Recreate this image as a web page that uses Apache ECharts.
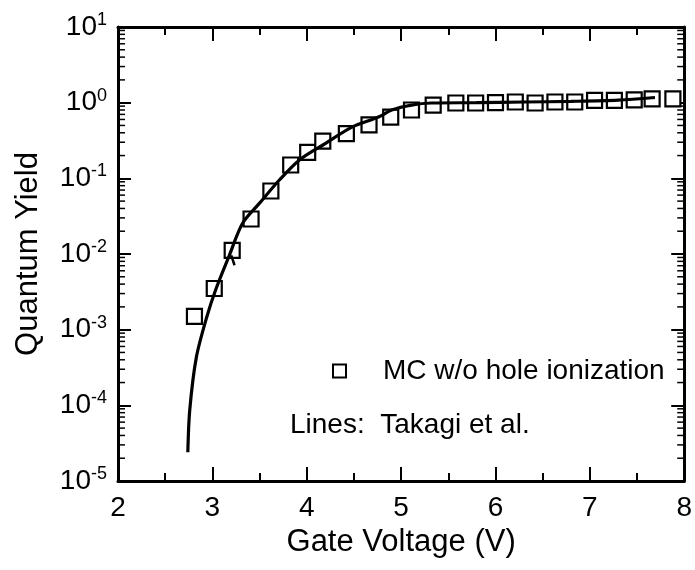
<!DOCTYPE html>
<html>
<head>
<meta charset="utf-8">
<script src="https://cdn.jsdelivr.net/npm/echarts@6/dist/echarts.min.js"></script>
<style>
html, body { margin: 0; padding: 0; background: #fff; }
#chart { width: 695px; height: 570px; }
</style>
</head>
<body>
<div id="chart"></div>
<script>
var chart = echarts.init(document.getElementById('chart'));

// MC w/o hole ionization (squares)
var mcVoltage = [2.81, 3.02, 3.21, 3.41, 3.62, 3.83, 4.01, 4.17, 4.42, 4.66, 4.89,
                 5.11, 5.34, 5.58, 5.79, 6.00, 6.21, 6.42, 6.63, 6.84, 7.05, 7.26, 7.47, 7.66, 7.88];
var mcYield = [1.5e-3, 3.5e-3, 1.12e-2, 2.9e-2, 6.8e-2, 0.15, 0.22, 0.31, 0.39, 0.51, 0.645,
               0.80, 0.93, 0.99, 0.99, 1.0, 1.02, 0.99, 1.02, 1.02, 1.07, 1.07, 1.09, 1.12, 1.12];

// Takagi et al. (solid line)
var takagiVoltage = [2.74, 2.76, 2.83, 2.94, 3.04, 3.18, 3.32, 3.50, 3.71, 3.92, 4.20, 4.48, 4.76, 4.90, 5.11, 5.32, 5.8, 6.3, 6.8, 7.3, 7.69];
var takagiYield = [2.4e-5, 8.6e-5, 4.3e-4, 1.46e-3, 3.5e-3, 9.6e-3, 2.55e-2, 4.7e-2, 9.5e-2, 0.174, 0.29, 0.475, 0.645, 0.80, 0.93, 0.99, 1.0, 1.02, 1.04, 1.08, 1.17];

// short extra line piece near 3.2 V
var stubVoltage = [3.20, 3.235];
var stubYield = [9.6e-3, 7.1e-3];

// log axis minor tick positions
var decades = [1e-5, 1e-4, 1e-3, 1e-2, 1e-1, 1];
var minorSteps = [2, 3, 4, 5, 6, 7, 8, 9];

var font = 'Liberation Sans, Arial, Helvetica, sans-serif';

function pairs(xs, ys) {
    return xs.map(function (x, i) { return [x, ys[i]]; });
}
var minorTicks = [];
decades.forEach(function (d) {
    minorSteps.forEach(function (k) { minorTicks.push([2, k * d]); });
});

var option = {
    backgroundColor: '#fff',
    animation: false,
    textStyle: { fontFamily: font, color: '#000' },
    grid: { left: 118, right: 8, top: 27, bottom: 89 },
    legend: {
        left: 327,
        top: 352,
        itemWidth: 13,
        itemHeight: 13,
        data: [{
            name: 'MC w/o hole ionization',
            icon: 'rect',
            itemStyle: { color: '#fff', borderColor: '#000', borderWidth: 2 }
        }],
        textStyle: { fontSize: 28, color: '#000', fontFamily: font, padding: [0, 0, 0, 32] }
    },
    graphic: [{
        type: 'text',
        left: 290,
        top: 411,
        style: { text: 'Lines:  Takagi et al.', fontSize: 28, fontFamily: font, fill: '#000' }
    }],
    xAxis: [{
        type: 'value',
        min: 2,
        max: 8,
        interval: 1,
        name: 'Gate Voltage (V)',
        nameLocation: 'middle',
        nameGap: 44,
        nameTextStyle: { fontSize: 31, color: '#000', fontFamily: font },
        axisLine: { lineStyle: { color: '#000', width: 3 } },
        axisTick: { inside: true, length: 14, lineStyle: { color: '#000', width: 2 } },
        minorTick: { show: true, splitNumber: 2, length: 8, lineStyle: { color: '#000', width: 2 } },
        axisLabel: { fontSize: 28, color: '#000', margin: 13, fontFamily: font },
        splitLine: { show: false }
    }, {
        type: 'value',
        position: 'top',
        min: 2,
        max: 8,
        interval: 1,
        axisLine: { lineStyle: { color: '#000', width: 3 } },
        axisTick: { inside: true, length: 14, lineStyle: { color: '#000', width: 2 } },
        minorTick: { show: true, splitNumber: 2, length: 8, lineStyle: { color: '#000', width: 2 } },
        axisLabel: { show: false },
        splitLine: { show: false }
    }],
    yAxis: [{
        type: 'log',
        logBase: 10,
        min: 1e-5,
        max: 10,
        interval: 1,
        name: 'Quantum Yield',
        nameLocation: 'middle',
        nameGap: 74,
        nameTextStyle: { fontSize: 31, color: '#000', fontFamily: font },
        axisLine: { lineStyle: { color: '#000', width: 3 } },
        axisTick: { inside: true, length: 13, lineStyle: { color: '#000', width: 2 } },
        axisLabel: {
            margin: 11,
            formatter: function (v) {
                var e = Math.round(Math.log(v) / Math.LN10);
                return '{b|10}{s|' + e + '}';
            },
            rich: {
                b: { fontSize: 28, color: '#000', fontFamily: font },
                s: { fontSize: 18, color: '#000', fontFamily: font, verticalAlign: 'top', padding: [0, 0, 14, 0] }
            }
        },
        splitLine: { show: false }
    }, {
        type: 'log',
        logBase: 10,
        position: 'right',
        min: 1e-5,
        max: 10,
        interval: 1,
        axisLine: { lineStyle: { color: '#000', width: 3 } },
        axisTick: { inside: true, length: 13, lineStyle: { color: '#000', width: 2 } },
        axisLabel: { show: false },
        splitLine: { show: false }
    }],
    series: [{
        name: 'log minor ticks',
        type: 'custom',
        silent: true,
        data: minorTicks,
        renderItem: function (params, api) {
            var y = api.coord([2, api.value(1)])[1];
            var cs = params.coordSys;
            var st = { stroke: '#000', lineWidth: 1.5 };
            return {
                type: 'group',
                children: [
                    { type: 'line', shape: { x1: cs.x, y1: y, x2: cs.x + 7, y2: y }, style: st },
                    { type: 'line', shape: { x1: cs.x + cs.width, y1: y, x2: cs.x + cs.width - 7, y2: y }, style: st }
                ]
            };
        }
    }, {
        name: 'MC w/o hole ionization',
        type: 'scatter',
        symbol: 'rect',
        symbolSize: 15,
        z: 3,
        itemStyle: { color: '#fff', borderColor: '#000', borderWidth: 2.2, opacity: 1 },
        data: pairs(mcVoltage, mcYield)
    }, {
        name: 'Takagi et al.',
        type: 'line',
        smooth: 0.3,
        showSymbol: false,
        z: 4,
        lineStyle: { color: '#000', width: 3.2 },
        data: pairs(takagiVoltage, takagiYield)
    }, {
        name: 'Takagi stub',
        type: 'line',
        showSymbol: false,
        z: 4,
        lineStyle: { color: '#000', width: 2.5 },
        data: pairs(stubVoltage, stubYield)
    }]
};

chart.setOption(option);
</script>
</body>
</html>
